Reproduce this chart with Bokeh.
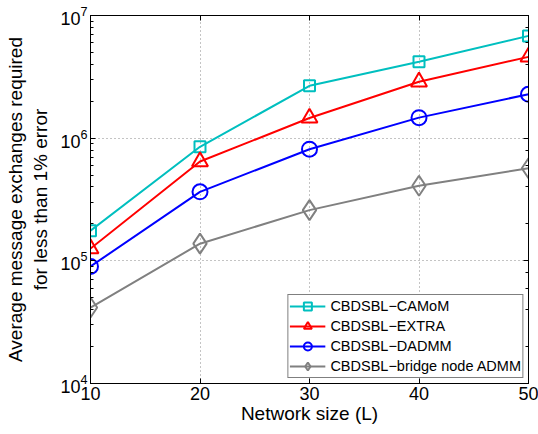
from bokeh.plotting import figure
from bokeh.models import LogAxis, LinearAxis, FixedTicker, Legend, CustomJSTickFormatter
from bokeh.embed import file_html
from bokeh.resources import INLINE

network_size = [10, 20, 30, 40, 50]
camom = [1.76e5, 8.5e5, 2.67e6, 4.19e6, 6.82e6]
extra = [1.26e5, 6.45e5, 1.46e6, 2.88e6, 4.6e6]
dadmm = [9.0e4, 3.65e5, 8.13e5, 1.47e6, 2.28e6]
bridge = [4.16e4, 1.38e5, 2.59e5, 4.09e5, 5.69e5]
labels = ["CBDSBL\u2212CAMoM", "CBDSBL\u2212EXTRA", "CBDSBL\u2212DADMM", "CBDSBL\u2212bridge node ADMM"]
x_ticks = [10, 20, 30, 40, 50]

FONT = "Liberation Sans"

p = figure(width=538, height=434, output_backend="svg", toolbar_location=None,
           y_axis_type="log", x_range=(10, 50), y_range=(1e4, 1e7),
           min_border_left=90, min_border_right=10, min_border_top=15, min_border_bottom=51)
p.background_fill_color = "white"
p.border_fill_color = "white"
p.outline_line_color = "black"
p.outline_line_width = 1

for ax in (p.xaxis[0], p.yaxis[0]):
    ax.major_tick_in = 5
    ax.major_tick_out = 0
    ax.minor_tick_in = 3
    ax.minor_tick_out = 0
    ax.axis_line_color = "black"
    ax.major_label_text_font = FONT
    ax.major_label_text_font_size = "18px"
    ax.major_label_text_color = "black"
    ax.axis_label_text_font = FONT
    ax.axis_label_text_font_size = "19px"
    ax.axis_label_text_font_style = "normal"
    ax.axis_label_text_color = "black"

p.xaxis.ticker = FixedTicker(ticks=x_ticks)
p.xaxis.minor_tick_line_color = None
p.xaxis.axis_label = "Network size (L)"
p.xaxis.axis_label_standoff = 0
p.xaxis.major_label_standoff = 3
p.yaxis.axis_label = "Average message exchanges required\nfor less than 1% error"
p.yaxis.axis_label_standoff = 6
p.yaxis.major_label_standoff = 3

blank = CustomJSTickFormatter(code="return ''")
# mirrored axes (box)
ra = LogAxis(major_tick_in=5, major_tick_out=0, minor_tick_in=3, minor_tick_out=0,
             formatter=blank, axis_line_color="black", major_label_standoff=0)
ta = LinearAxis(ticker=FixedTicker(ticks=x_ticks), major_tick_in=5, major_tick_out=0,
                minor_tick_line_color=None, formatter=blank, axis_line_color="black",
                major_label_standoff=0)
p.add_layout(ra, "right")
p.add_layout(ta, "above")

p.xgrid.ticker = FixedTicker(ticks=x_ticks)
for g in (p.xgrid[0], p.ygrid[0]):
    g.grid_line_color = "#555555"
    g.grid_line_dash = "1 3"
    g.grid_line_width = 1
    g.grid_line_alpha = 0.7

series = [
    (camom, "#00BFBF", "square", 11),
    (extra, "#FF0000", "triangle", 16),
    (dadmm, "#0000FF", "circle", 15),
    (bridge, "#808080", "diamond", 20),
]
items = []
for (vals, col, mk, sz), lab in zip(series, labels):
    l = p.line(network_size, vals, line_color=col, line_width=2)
    s = p.scatter(network_size, vals, marker=mk, size=sz, line_color=col, line_width=2,
                  fill_color=None)
    items.append((lab, [l, s]))

legend = Legend(items=items, location="bottom_right", margin=5)
legend.label_text_font = FONT
legend.label_text_font_size = "14.5px"
legend.label_text_color = "black"
legend.glyph_width = 36
legend.glyph_height = 20
legend.label_height = 18
legend.spacing = 0
legend.padding = 1
legend.margin = 5
legend.label_standoff = 5
legend.border_line_color = "black"
legend.border_line_width = 1
legend.background_fill_color = "white"
legend.background_fill_alpha = 1
p.add_layout(legend, "center")

open("out.html", "w").write(file_html(p, INLINE))
